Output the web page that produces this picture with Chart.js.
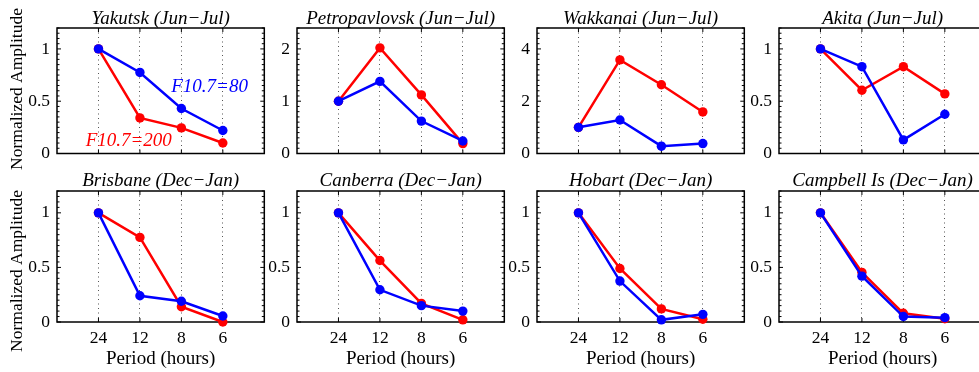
<!DOCTYPE html>
<html>
<head>
<meta charset="utf-8">
<script src="https://cdn.jsdelivr.net/npm/chart.js@4"></script>
<style>
  html, body { margin: 0; padding: 0; background: #fff; overflow: hidden; }
  body { width: 979px; height: 372px; position: relative; }
  canvas { position: absolute; }
</style>
</head>
<body>
<script>
// periods on the x axis
const periods = ["24", "12", "8", "6"];

const titles = [
	"Yakutsk (Jun\u2212Jul)", "Petropavlovsk (Jun\u2212Jul)", "Wakkanai (Jun\u2212Jul)", "Akita (Jun\u2212Jul)",
	"Brisbane (Dec\u2212Jan)", "Canberra (Dec\u2212Jan)", "Hobart (Dec\u2212Jan)", "Campbell Is (Dec\u2212Jan)",
];

// F10.7=80 (blue) / F10.7=200 (red)
const yakutsk80 = [1, 0.775, 0.43, 0.22];
const yakutsk200 = [1, 0.34, 0.245, 0.10];
const petro80 = [1, 1.38, 0.62, 0.24];
const petro200 = [1, 2.02, 1.12, 0.19];
const wakkanai80 = [1, 1.28, 0.28, 0.38];
const wakkanai200 = [1, 3.58, 2.63, 1.59];
const akita80 = [1, 0.83, 0.13, 0.375];
const akita200 = [1, 0.605, 0.83, 0.57];
const brisbane80 = [1, 0.24, 0.19, 0.055];
const brisbane200 = [1, 0.775, 0.14, 0.0];
const canberra80 = [1, 0.295, 0.15, 0.10];
const canberra200 = [1, 0.563, 0.17, 0.02];
const hobart80 = [1, 0.375, 0.02, 0.07];
const hobart200 = [1, 0.49, 0.12, 0.025];
const campbell80 = [1, 0.42, 0.05, 0.04];
const campbell200 = [1, 0.455, 0.08, 0.03];

// y tick labels
const yTicks1 = [0, 0.5, 1];
const yTicks2 = [0, 1, 2];
const yTicks4 = [0, 2, 4];

const panels = [
	[yakutsk80, yakutsk200, yTicks1, 1.2],
	[petro80, petro200, yTicks2, 2.4],
	[wakkanai80, wakkanai200, yTicks4, 4.8],
	[akita80, akita200, yTicks1, 1.2],
	[brisbane80, brisbane200, yTicks1, 1.2],
	[canberra80, canberra200, yTicks1, 1.2],
	[hobart80, hobart200, yTicks1, 1.2],
	[campbell80, campbell200, yTicks1, 1.2],
];

const SERIF = "'Liberation Serif', 'DejaVu Serif', serif";
const plotLefts = [57, 297, 537, 779];

// box with inward ticks, matlab style
const boxPlugin = {
	id: "boxTicks",
	beforeDatasetsDraw(chart, args, opts) {
		const { ctx, chartArea: a, scales } = chart;
		const x = scales.x, y = scales.y;
		ctx.save();
		ctx.strokeStyle = "#000";
		ctx.lineWidth = 1;
		ctx.beginPath();
		x.ticks.forEach((t) => {
			const px = x.getPixelForValue(t.value);
			ctx.moveTo(px, a.bottom); ctx.lineTo(px, a.bottom - 4);
			ctx.moveTo(px, a.top); ctx.lineTo(px, a.top + 4);
		});
		const step = (opts.ticks[1] - opts.ticks[0]) / 10;
		for (let i = 0; i * step <= y.max + 1e-9; i++) {
			const py = y.getPixelForValue(i * step);
			const len = i % 10 === 0 ? 4 : 2.5;
			ctx.moveTo(a.left, py); ctx.lineTo(a.left + len, py);
			ctx.moveTo(a.right, py); ctx.lineTo(a.right - len, py);
		}
		ctx.stroke();
		ctx.lineWidth = 1.5;
		ctx.strokeRect(a.left, a.top, a.right - a.left, a.bottom - a.top);
		ctx.restore();
	},
};

// y axis label + curve labels
const textPlugin = {
	id: "panelText",
	afterDraw(chart, args, opts) {
		const ctx = chart.ctx;
		ctx.save();
		if (opts.ylabel) {
			ctx.translate(17.5, opts.ylabelY);
			ctx.rotate(-Math.PI / 2);
			ctx.font = "17.5px " + SERIF;
			ctx.fillStyle = "#000";
			ctx.textAlign = "center";
			ctx.textBaseline = "middle";
			ctx.fillText(opts.ylabel, 0, 0);
			ctx.setTransform(1, 0, 0, 1, 0, 0);
		}
		(opts.notes || []).forEach((n) => {
			ctx.font = "italic 19px " + SERIF;
			ctx.fillStyle = n.color;
			ctx.textAlign = "center";
			ctx.textBaseline = "middle";
			ctx.fillText(n.text, chart.scales.x.getPixelForValue(n.x), chart.scales.y.getPixelForValue(n.y));
		});
		ctx.restore();
	},
};

panels.forEach((p, idx) => {
	const row = Math.floor(idx / 4), col = idx % 4;
	const bottomRow = row === 1;
	const canvas = document.createElement("canvas");
	const w = 269, h = bottomRow ? 202 : 171;
	canvas.width = w; canvas.height = h;
	canvas.style.width = w + "px"; canvas.style.height = h + "px";
	canvas.style.left = (plotLefts[col] - 57) + "px";
	canvas.style.top = (bottomRow ? 170 : 0) + "px";
	document.body.appendChild(canvas);

	const line = (vals, color) => ({
		data: vals.map((v, i) => ({ x: i + 1, y: v })),
		borderColor: color,
		backgroundColor: color,
		pointBackgroundColor: color,
		borderWidth: 2.5,
		pointRadius: 4.7,
		pointBorderWidth: 0,
		clip: false,
	});

	new Chart(canvas, {
		type: "line",
		data: { datasets: [line(p[0], "#0000ff"), line(p[1], "#ff0000")] },
		plugins: [boxPlugin, textPlugin],
		options: {
			responsive: false,
			animation: false,
			events: [],
			layout: { padding: { left: 0, right: 4, top: 0, bottom: 0 } },
			scales: {
				x: {
					type: "linear",
					min: 0,
					max: 5,
					afterBuildTicks: (s) => { s.ticks = periods.map((_, i) => ({ value: i + 1 })); },
					afterFit: (s) => { s.height = bottomRow ? 50 : 12; },
					ticks: {
						display: bottomRow,
						callback: (v) => periods[v - 1],
						color: "#000",
						font: { family: SERIF, size: 17.5 },
						padding: 6,
						maxRotation: 0,
					},
					grid: { color: "#555", lineWidth: 1, drawTicks: false },
					border: { display: false, dash: [1, 3.5] },
					title: {
						display: bottomRow,
						text: "Period (hours)",
						color: "#000",
						font: { family: SERIF, size: 19 },
						padding: { top: 0, bottom: 1.6 },
					},
				},
				y: {
					min: 0,
					max: p[3],
					afterBuildTicks: (s) => { s.ticks = p[2].map((v) => ({ value: v })); },
					afterFit: (s) => { s.width = 57; },
					ticks: {
						callback: (v) => String(v),
						color: "#000",
						font: { family: SERIF, size: 17.5 },
						padding: 7,
					},
					grid: { display: false, drawTicks: false },
					border: { display: false },
				},
			},
			plugins: {
				legend: { display: false },
				tooltip: { enabled: false },
				title: {
					display: true,
					text: titles[idx],
					fullSize: false,
					color: "#000",
					font: { family: SERIF, size: 19, style: "italic", weight: "normal", lineHeight: 1 },
					padding: bottomRow ? { top: 1.5, bottom: 0.5 } : { top: 9, bottom: 0 },
				},
				boxTicks: { ticks: p[2] },
				panelText: {
					ylabel: col === 0 ? "Normalized Amplitude" : null,
					ylabelY: bottomRow ? 101 : 89,
					notes: idx === 0 ? [
						{ text: "F10.7=80", x: 3.68, y: 0.64, color: "#0000ff" },
						{ text: "F10.7=200", x: 1.73, y: 0.123, color: "#ff0000" },
					] : [],
				},
			},
		},
	});
});
</script>
</body>
</html>
